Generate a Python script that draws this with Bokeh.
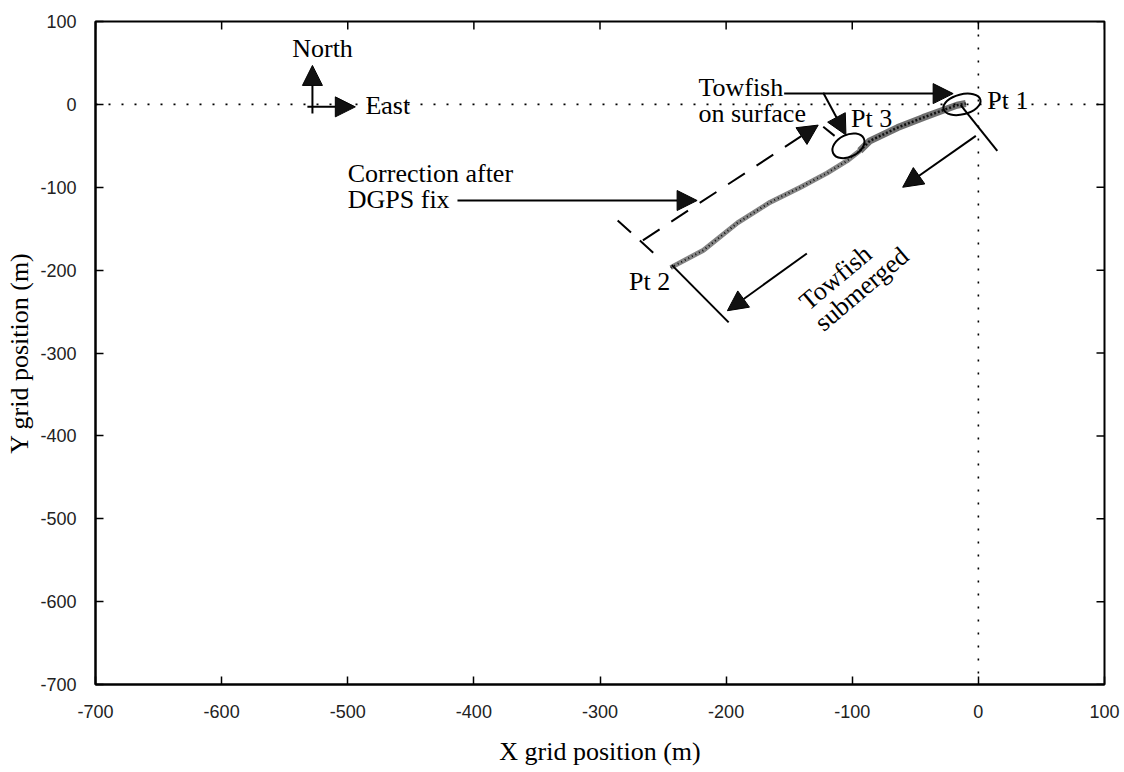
import math
from bokeh.plotting import figure
from bokeh.models import Range1d, FixedTicker, Span, Arrow, NormalHead, ColumnDataSource
from bokeh.core.properties import value
from bokeh.embed import file_html
from bokeh.resources import INLINE

# ---------------- data ----------------
x_ticks = [-700, -600, -500, -400, -300, -200, -100, 0, 100]
x_tick_labels = ["-700", "-600", "-500", "-400", "-300", "-200", "-100", "0", "100"]
y_ticks = [-700, -600, -500, -400, -300, -200, -100, 0, 100]
y_tick_labels = ["-700", "-600", "-500", "-400", "-300", "-200", "-100", "0", "100"]

# towfish track (Pt 2 -> Pt 3 -> Pt 1)
track_x = [-244, -218, -191, -165, -141, -120, -104, -94, -86, -64, -44, -28, -17, -10]
track_y = [-197, -176, -143, -118, -100, -83, -68, -56, -44, -28, -16, -7, -1, 1]
surface_start = 7  # index where the surfaced part begins

# circled points (Pt 3, Pt 1)
circle_x = [-103, -13]
circle_y = [-50, 0]

# solid arrows
arrow_x0 = [-528, -532, -154, -123, -413, -2, -136]
arrow_y0 = [-11, -3, 13, 14, -116, -38, -180]
arrow_x1 = [-528, -494, -20, -105, -223, -60, -199]
arrow_y1 = [47, -3, 13, -37, -116, -100, -249]

# dashed correction arrow
corr_x0, corr_y0, corr_x1, corr_y1 = -266, -164, -127, -25

# solid end bars (Pt 2, Pt 1)
bar_x0 = [-243, -14]
bar_y0 = [-194, -1]
bar_x1 = [-198, 15]
bar_y1 = [-263, -56]

# dashed end bars of the correction
dbar_x0 = [-286, -123]
dbar_y0 = [-140, -27]
dbar_x1 = [-257, -114]
dbar_y1 = [-180, -38]

# annotation texts
left_text = ["Towfish", "on surface", "Pt 3", "Pt 1", "Pt 2", "Correction after", "DGPS fix", "East"]
left_x = [-222, -222, -101, 7, -277, -500, -500, -486]
left_y = [20, -11, -17, 5, -214, -84, -115, -1]

north_text = ["North"]
north_x = [-520]
north_y = [68]

rot_text = ["Towfish", "submerged"]
rot_x = [-139, -127]
rot_y = [-242, -267]

# ---------------- figure ----------------
p = figure(frame_width=1009, frame_height=663,
           x_range=Range1d(-700, 100), y_range=Range1d(-700, 100),
           output_backend="svg", toolbar_location=None,
           min_border_left=95, min_border_right=20, min_border_top=21, min_border_bottom=88,
           background_fill_color="white", border_fill_color="white")
p.xgrid.visible = False
p.ygrid.visible = False
p.outline_line_color = "black"
p.outline_line_width = 2

serif = "Liberation Serif"
sans = "Liberation Sans"
ann_size = "26px"


def style_axis(ax, ticks, labels):
    ax.ticker = FixedTicker(ticks=ticks)
    ax.major_tick_in = 8
    ax.major_tick_out = 0
    ax.minor_tick_in = 0
    ax.minor_tick_out = 0
    ax.axis_line_width = 2
    ax.axis_line_color = "black"
    ax.major_tick_line_width = 1.5
    ax.major_tick_line_color = "black"
    ax.major_label_overrides = dict(zip(ticks, labels))
    ax.major_label_text_font = sans
    ax.major_label_text_font_size = "18px"
    ax.major_label_text_color = "#222222"
    ax.axis_label_text_font = serif
    ax.axis_label_text_font_size = ann_size
    ax.axis_label_text_font_style = "normal"
    ax.axis_label_text_color = "black"


style_axis(p.xaxis[0], x_ticks, x_tick_labels)
style_axis(p.yaxis[0], y_ticks, y_tick_labels)
p.xaxis[0].axis_label = "X grid position (m)"
p.yaxis[0].axis_label = "Y grid position (m)"
p.xaxis[0].major_label_standoff = 20
p.yaxis[0].major_label_standoff = 19
p.xaxis[0].axis_label_standoff = 16
p.yaxis[0].axis_label_standoff = 3

# mirrored inward ticks on the top and right frame edges (clipped to the frame)
p.scatter(x=x_ticks, y=[y_ticks[-1]] * len(x_ticks), marker="dash", size=16, angle=math.pi / 2,
          line_color="black", line_width=1.5)
p.scatter(x=[x_ticks[-1]] * len(y_ticks), y=y_ticks, marker="dash", size=16,
          line_color="black", line_width=1.5)

# dotted zero lines
p.add_layout(Span(location=0, dimension="width", line_color="black", line_width=1.6, line_dash="2 11"))
p.add_layout(Span(location=0, dimension="height", line_color="black", line_width=1.6, line_dash="2 11"))

# track: submerged part (thin) and surfaced part (thicker)
sx = track_x[:surface_start + 1]
sy = track_y[:surface_start + 1]
ux = track_x[surface_start:]
uy = track_y[surface_start:]
p.line(sx, sy, line_width=5, line_color="#858585")
p.line(sx, sy, line_width=2, line_color="#111111", line_dash="1 3")
p.line(ux, uy, line_width=7, line_color="#707070")
p.line(ux, uy, line_width=2.5, line_color="#111111", line_dash="2 2")

# ellipses around Pt 3 and Pt 1
p.ellipse(x=circle_x, y=circle_y, width=[34, 38], height=[22, 20], angle=[0.45, 0.25],
          width_units="screen", height_units="screen",
          fill_color=None, line_color="black", line_width=2)

# end bars
p.segment(x0=bar_x0, y0=bar_y0, x1=bar_x1, y1=bar_y1, line_color="black", line_width=2)
p.segment(x0=dbar_x0, y0=dbar_y0, x1=dbar_x1, y1=dbar_y1, line_color="black", line_width=2,
          line_dash="18 12")

# arrows
src = ColumnDataSource(dict(x0=arrow_x0, y0=arrow_y0, x1=arrow_x1, y1=arrow_y1))
p.add_layout(Arrow(end=NormalHead(size=20, fill_color="#111111", line_color="black", line_width=1),
                   x_start="x0", y_start="y0", x_end="x1", y_end="y1", source=src,
                   line_color="black", line_width=2))
p.add_layout(Arrow(end=NormalHead(size=20, fill_color="#111111", line_color="black", line_width=1),
                   x_start=corr_x0, y_start=corr_y0, x_end=corr_x1, y_end=corr_y1,
                   line_color="black", line_width=2, line_dash="20 14"))

# texts
p.text(x=left_x, y=left_y, text=left_text, text_font=value(serif), text_font_size=value(ann_size),
       text_align="left", text_baseline="alphabetic", text_color="black")
p.text(x=north_x, y=north_y, text=north_text, text_font=value(serif), text_font_size=value(ann_size),
       text_align="center", text_baseline="alphabetic", text_color="black")
p.text(x=rot_x, y=rot_y, text=rot_text, text_font=value(serif), text_font_size=value(ann_size),
       text_align="left", text_baseline="middle", angle=0.70, text_color="black")

open("out.html", "w").write(file_html(p, INLINE))
